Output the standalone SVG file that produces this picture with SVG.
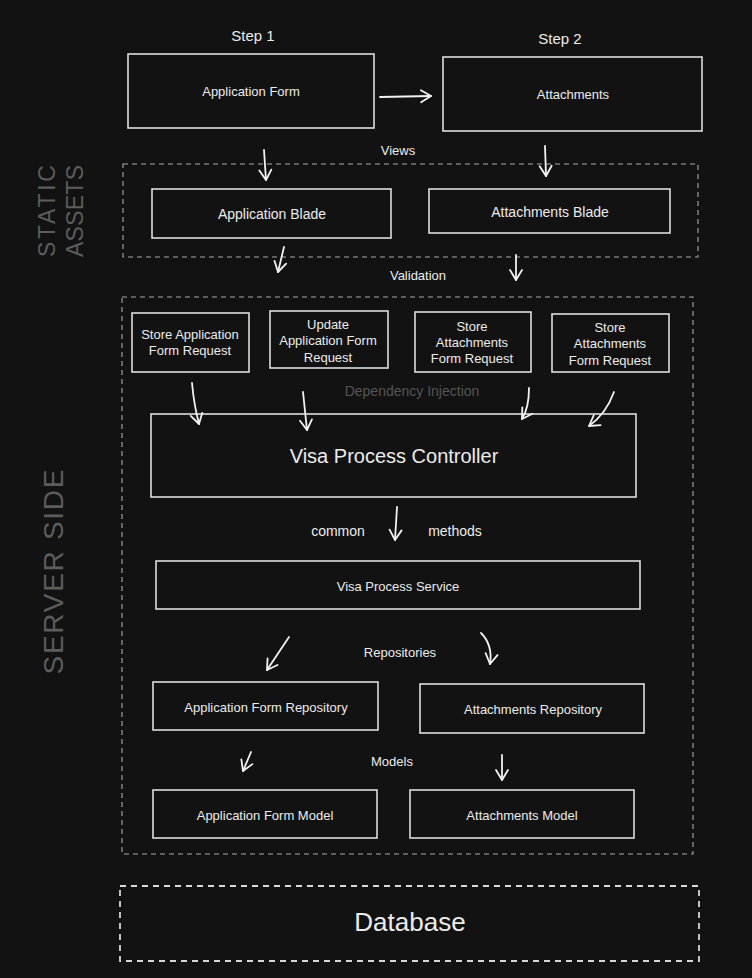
<svg xmlns="http://www.w3.org/2000/svg" width="752" height="978" viewBox="0 0 752 978">
  <style>
    .bg { fill: #121212; }
    .box { fill: none; stroke: #dedede; stroke-width: 1.6; }
    .zone { fill: none; stroke: #a8a8a8; stroke-width: 1.1; stroke-dasharray: 5 4; }
    .db { fill: none; stroke: #d8d8d8; stroke-width: 1.8; stroke-dasharray: 6 5; }
    .lbl { font-family: "Liberation Sans", Arial, sans-serif; fill: #ececec; text-anchor: middle; dominant-baseline: central; }
    .s13 { font-size: 13px; }
    .s14 { font-size: 14px; }
    .s15 { font-size: 15px; }
    .muted { fill: #555555; }
    .side { font-family: "Liberation Sans", Arial, sans-serif; fill: #5c5c5c; text-anchor: middle; dominant-baseline: central; }
    .wire { fill: none; stroke: #f2f2f2; stroke-width: 1.8; stroke-linecap: round; marker-end: url(#head); }
  </style>
  <defs>
    <marker id="head" markerUnits="userSpaceOnUse" markerWidth="16" markerHeight="16" viewBox="-12 -8 16 16" refX="0" refY="0" orient="auto">
      <path d="M -10 -6 L 0 0 L -10 6" fill="none" stroke="#f2f2f2" stroke-width="1.8" stroke-linecap="round" stroke-linejoin="round"/>
    </marker>
  </defs>

  <rect class="bg" x="0" y="0" width="752" height="978"/>

  <!-- side captions -->
  <g id="caption-static">
    <text class="side" font-size="23" transform="translate(47 211) rotate(-90)" textLength="92" lengthAdjust="spacing">STATIC</text>
    <text class="side" font-size="23" transform="translate(75 211) rotate(-90)" textLength="92" lengthAdjust="spacing">ASSETS</text>
  </g>
  <g id="caption-server">
    <text class="side" font-size="28" transform="translate(53 572) rotate(-90)" textLength="205" lengthAdjust="spacing">SERVER SIDE</text>
  </g>

  <!-- zones -->
  <g id="zone-static"><rect class="zone" x="123" y="164" width="575" height="93"/></g>
  <g id="zone-server"><rect class="zone" x="122" y="297" width="571" height="557"/></g>

  <!-- free labels -->
  <g id="labels">
    <text class="lbl s15" x="253" y="35">Step 1</text>
    <text class="lbl s15" x="560" y="38">Step 2</text>
    <text class="lbl s13" x="398" y="150">Views</text>
    <text class="lbl s13" x="418" y="275">Validation</text>
    <text class="lbl s14 muted" x="412" y="391">Dependency Injection</text>
    <text class="lbl s14" x="338" y="531">common</text>
    <text class="lbl s14" x="455" y="531">methods</text>
    <text class="lbl s13" x="400" y="652">Repositories</text>
    <text class="lbl s13" x="392" y="761">Models</text>
  </g>

  <!-- nodes -->
  <g id="application-form">
    <rect class="box" x="128" y="54" width="246" height="74"/>
    <text class="lbl s13" x="251" y="91">Application Form</text>
  </g>
  <g id="attachments">
    <rect class="box" x="443" y="57" width="259" height="74"/>
    <text class="lbl s13" x="573" y="94">Attachments</text>
  </g>
  <g id="application-blade">
    <rect class="box" x="152" y="189" width="239" height="49"/>
    <text class="lbl s14" x="272" y="214">Application Blade</text>
  </g>
  <g id="attachments-blade">
    <rect class="box" x="429" y="189" width="241" height="44"/>
    <text class="lbl s14" x="550" y="212">Attachments Blade</text>
  </g>
  <g id="store-application-request">
    <rect class="box" x="132" y="313" width="117" height="59"/>
    <text class="lbl s13" x="190" y="334">Store Application</text>
    <text class="lbl s13" x="190" y="350">Form Request</text>
  </g>
  <g id="update-application-request">
    <rect class="box" x="270" y="311" width="118" height="57"/>
    <text class="lbl s13" x="328" y="324">Update</text>
    <text class="lbl s13" x="328" y="340">Application Form</text>
    <text class="lbl s13" x="328" y="357">Request</text>
  </g>
  <g id="store-attachments-request-a">
    <rect class="box" x="415" y="312" width="116" height="60"/>
    <text class="lbl s13" x="472" y="326">Store</text>
    <text class="lbl s13" x="472" y="342">Attachments</text>
    <text class="lbl s13" x="472" y="358">Form Request</text>
  </g>
  <g id="store-attachments-request-b">
    <rect class="box" x="552" y="314" width="117" height="58"/>
    <text class="lbl s13" x="610" y="327">Store</text>
    <text class="lbl s13" x="610" y="343">Attachments</text>
    <text class="lbl s13" x="610" y="360">Form Request</text>
  </g>
  <g id="visa-process-controller">
    <rect class="box" x="151" y="414" width="485" height="83"/>
    <text class="lbl" font-size="20" x="394" y="456">Visa Process Controller</text>
  </g>
  <g id="visa-process-service">
    <rect class="box" x="156" y="561" width="484" height="48"/>
    <text class="lbl s13" x="398" y="586">Visa Process Service</text>
  </g>
  <g id="application-form-repository">
    <rect class="box" x="153" y="682" width="225" height="48"/>
    <text class="lbl s13" x="266" y="707">Application Form Repository</text>
  </g>
  <g id="attachments-repository">
    <rect class="box" x="420" y="684" width="224" height="49"/>
    <text class="lbl s13" x="533" y="709">Attachments Repository</text>
  </g>
  <g id="application-form-model">
    <rect class="box" x="153" y="790" width="224" height="48"/>
    <text class="lbl s13" x="265" y="815">Application Form Model</text>
  </g>
  <g id="attachments-model">
    <rect class="box" x="410" y="790" width="224" height="48"/>
    <text class="lbl s13" x="522" y="815">Attachments Model</text>
  </g>
  <g id="database">
    <rect class="db" x="120" y="886" width="579" height="75"/>
    <text class="lbl" font-size="26" x="410" y="922">Database</text>
  </g>

  <!-- connectors -->
  <g id="connectors">
    <path class="wire" d="M 380 97 L 431 96"/>
    <path class="wire" d="M 264 150 L 266 180"/>
    <path class="wire" d="M 545 146 L 546 176"/>
    <path class="wire" d="M 284 247 L 278 272"/>
    <path class="wire" d="M 516 255 L 516 280"/>
    <path class="wire" d="M 192 383 Q 194 405 199 424"/>
    <path class="wire" d="M 303 392 L 307 430"/>
    <path class="wire" d="M 529 388 Q 529 408 522 419"/>
    <path class="wire" d="M 614 392 Q 606 414 589 426"/>
    <path class="wire" d="M 397 507 L 395 540"/>
    <path class="wire" d="M 289 637 L 267 670"/>
    <path class="wire" d="M 481 633 Q 493 645 490 664"/>
    <path class="wire" d="M 251 752 L 243 771"/>
    <path class="wire" d="M 502 755 L 502 780"/>
  </g>
</svg>
